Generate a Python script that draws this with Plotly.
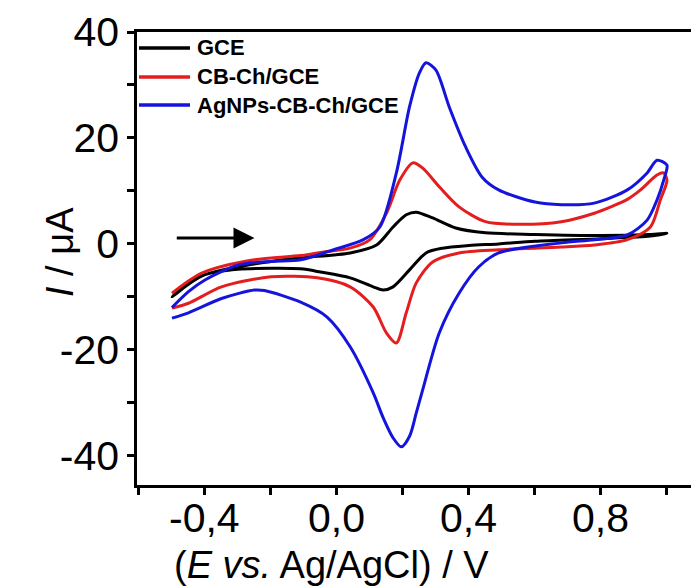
import plotly.graph_objects as go

# ---- data (E in V, I in µA) ----
gce_fwd_E = [-0.5, -0.45, -0.4, -0.3, -0.2, -0.11, 0.04, 0.12, 0.17, 0.21, 0.24, 0.29, 0.36, 0.45, 0.6, 0.8, 0.95, 1.0]
gce_fwd_I = [-10, -7.2, -5.8, -4.3, -3.3, -2.6, -1.7, -0.2, 3.2, 5.5, 6.0, 4.9, 3.0, 2.1, 1.8, 1.6, 1.8, 2.0]
gce_rev_E = [0.95, 0.8, 0.6, 0.49, 0.4, 0.32, 0.27, 0.22, 0.17, 0.14, 0.11, 0.04, -0.05, -0.11, -0.2, -0.3, -0.4, -0.45, -0.5]
gce_rev_I = [1.5, 1.0, 0.5, 0.0, -0.3, -0.8, -1.7, -4.9, -8.1, -8.7, -8.1, -6.4, -5.3, -4.7, -4.6, -4.8, -5.8, -7.6, -10]

cb_fwd_E = [-0.5, -0.41, -0.25, -0.11, -0.05, 0.04, 0.10, 0.15, 0.19, 0.23, 0.26, 0.31, 0.37, 0.45, 0.55, 0.68, 0.78, 0.83, 0.88, 0.92, 0.97, 0.99]
cb_fwd_I = [-9.3, -5.5, -3.0, -2.2, -1.6, -0.8, 0.8, 5.8, 12.0, 15.3, 14.3, 10.8, 7.0, 4.2, 3.7, 4.2, 5.8, 7.0, 8.4, 10.2, 13.0, 13.4]
cb_rev_E = [1.0, 0.98, 0.95, 0.88, 0.78, 0.68, 0.49, 0.37, 0.29, 0.24, 0.21, 0.18, 0.15, 0.11, 0.04, -0.06, -0.2, -0.35, -0.45, -0.5]
cb_rev_I = [12.0, 8.3, 3.2, 0.8, -0.2, -0.6, -1.1, -1.7, -3.4, -7.4, -13.0, -18.7, -16.8, -11.9, -8.1, -6.4, -6.2, -8.1, -11.2, -12.1]

ag_fwd_E = [-0.5, -0.45, -0.4, -0.3, -0.2, -0.11, -0.01, 0.08, 0.13, 0.18, 0.22, 0.25, 0.27, 0.30, 0.34, 0.39, 0.44, 0.49, 0.6, 0.68, 0.78, 0.88, 0.94, 0.97, 1.0]
ag_fwd_I = [-12, -9.0, -6.8, -4.0, -3.3, -3.0, -1.1, 0.8, 3.2, 13.4, 25.9, 32.3, 34.2, 32.8, 25.9, 18.3, 12.6, 10.2, 7.9, 7.4, 7.7, 10.2, 13.4, 15.8, 14.9]
ag_rev_E = [0.99, 0.97, 0.94, 0.88, 0.78, 0.68, 0.49, 0.43, 0.37, 0.31, 0.26, 0.24, 0.22, 0.195, 0.17, 0.14, 0.11, 0.04, -0.03, -0.11, -0.22, -0.25, -0.35, -0.45, -0.5]
ag_rev_I = [12.0, 8.3, 4.5, 1.7, 0.8, 0.2, -1.7, -4.3, -9.3, -16.8, -27.5, -32.0, -36.3, -38.3, -36.6, -32.8, -28.1, -19.4, -13.8, -11.0, -8.8, -8.7, -10.3, -13.0, -14.0]

series_names = ["GCE", "CB-Ch/GCE", "AgNPs-CB-Ch/GCE"]
series_colors = ["#000000", "#e41e1e", "#1414dc"]

x_tickvals = [-0.6, -0.4, -0.2, 0.0, 0.2, 0.4, 0.6, 0.8, 1.0]
x_ticktext = ["", "-0,4", "", "0,0", "", "0,4", "", "0,8", ""]
y_tickvals = [-40, -30, -20, -10, 0, 10, 20, 30, 40]
y_ticktext = ["-40", "", "-20", "", "0", "", "20", "", "40"]

FONT = "Arial, Liberation Sans, sans-serif"

# plot-area geometry (pixels)
L, T, B, W, H = 137, 32, 103, 691, 588
PW, PH = W - L, H - T - B

def px2paper(px, py):
    return (px - L) / PW, (H - B - py) / PH

fig = go.Figure()
curves = [
    (gce_fwd_E + gce_rev_E, gce_fwd_I + gce_rev_I),
    (cb_fwd_E + cb_rev_E, cb_fwd_I + cb_rev_I),
    (ag_fwd_E + ag_rev_E, ag_fwd_I + ag_rev_I),
]
for (xs, ys), name, col in zip(curves, series_names, series_colors):
    fig.add_trace(go.Scatter(x=xs, y=ys, mode="lines", name=name, showlegend=False,
                             line=dict(color=col, width=3, shape="spline", smoothing=0.8)))

axis_common = dict(showgrid=False, zeroline=False, showline=True, linecolor="black",
                   linewidth=2.5, ticks="outside", ticklen=7, tickwidth=2.5, tickcolor="black",
                   automargin=False,
                   tickfont=dict(family=FONT, size=41, color="black"))

fig.update_xaxes(range=[-0.606, 1.073], tickmode="array", tickvals=x_tickvals, ticktext=x_ticktext,
                 mirror=True, showticklabels=False, **axis_common)
fig.update_yaxes(range=[-45.5, 40], tickmode="array", tickvals=y_tickvals, ticktext=y_ticktext,
                 **axis_common)

# x tick labels placed at the axis values
_, lab_y = px2paper(0, 518)
for v, t in zip(x_tickvals, x_ticktext):
    if t:
        fig.add_annotation(x=v, y=lab_y, xref="x", yref="paper", showarrow=False, text=t,
                           xanchor="center", yanchor="middle",
                           font=dict(family=FONT, size=41, color="black"))

# scan-direction arrow
fig.add_annotation(x=-0.25, y=1.1, ax=-0.49, ay=1.1, xref="x", yref="y", axref="x", ayref="y",
                   showarrow=True, arrowhead=2, arrowsize=1.4, arrowwidth=3, arrowcolor="black", text="")

# axis titles
tx, ty = px2paper(331, 565)
fig.add_annotation(x=tx, y=ty, xref="paper", yref="paper", showarrow=False,
                   text="(<i>E vs.</i> Ag/AgCl) / V", font=dict(family=FONT, size=38, color="black"),
                   xanchor="center", yanchor="middle")
tx, ty = px2paper(60, 252)
fig.add_annotation(x=tx, y=ty, xref="paper", yref="paper", showarrow=False, textangle=-90,
                   text="<i>I</i> / μA", font=dict(family=FONT, size=38, color="black"),
                   xanchor="center", yanchor="middle")

# legend (line samples + labels)
legend_rows_py = [48, 77, 105]
for name, col, py in zip(series_names, series_colors, legend_rows_py):
    x0, y0 = px2paper(139, py)
    x1, _ = px2paper(190, py)
    fig.add_shape(type="line", xref="paper", yref="paper", x0=x0, x1=x1, y0=y0, y1=y0,
                  line=dict(color=col, width=3.5))
    tx, _ = px2paper(195, py)
    fig.add_annotation(x=tx, y=y0, xref="paper", yref="paper", showarrow=False, text=name,
                       xanchor="left", yanchor="middle",
                       font=dict(family=FONT, size=22, color="black", weight="bold"))

fig.update_layout(
    width=W, height=H,
    margin=dict(l=L, r=0, t=T, b=B),
    plot_bgcolor="white", paper_bgcolor="white",
    showlegend=False,
)

fig.write_html("out.html", config={"displayModeBar": False},
               post_script="document.body.style.margin='0px';document.body.style.overflow='hidden';")
